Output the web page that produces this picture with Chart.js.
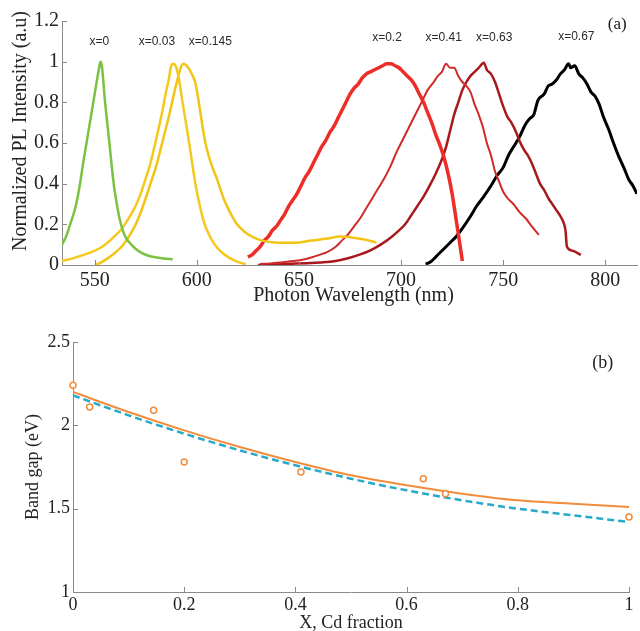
<!DOCTYPE html>
<html>
<head>
<meta charset="utf-8">
<script src="https://cdn.jsdelivr.net/npm/chart.js@4.4.1/dist/chart.umd.min.js"></script>
<style>
    body { margin: 0; background: #fff; }
    #wrap { position: relative; width: 640px; height: 631px; overflow: hidden; }
    #plChart { position: absolute; left: 0; top: 0; }
    #gapChart { position: absolute; left: 0; top: 310px; }
</style>
</head>
<body>
<div id="wrap">
    <canvas id="plChart" width="640" height="310"></canvas>
    <canvas id="gapChart" width="640" height="321"></canvas>
</div>
<script>
//---------------------------------------------------------------------------------------------//
//------------------------------------------- Data --------------------------------------------//
//---------------------------------------------------------------------------------------------//
// ----* (a) PL spectra : [wavelength nm, normalized intensity] *---- //
var spec_x0 = [[534, 0.10], [536, 0.14], [538, 0.20], [540.5, 0.28], [542.5, 0.38], [544.5, 0.51], [546.5, 0.63],
    [548, 0.72], [550.3, 0.86], [552, 0.96], [552.8, 1.0], [553.5, 0.98], [555, 0.81], [557, 0.62], [559.3, 0.40],
    [561, 0.29], [562.6, 0.21], [564.5, 0.15], [566.6, 0.115], [570, 0.08], [573.2, 0.058], [576, 0.047],
    [579.7, 0.038], [584, 0.032], [588.2, 0.028]];

var spec_x003 = [[534, 0.02], [540, 0.035], [547, 0.058], [552, 0.08], [555, 0.10], [559, 0.135], [563.4, 0.18],
    [567, 0.235], [570, 0.29], [572.5, 0.35], [574.8, 0.42], [577, 0.49], [579.7, 0.60], [581.5, 0.68], [583, 0.75],
    [584.5, 0.83], [586.2, 0.91], [587.5, 0.98], [588.5, 0.99], [590, 0.97], [591.5, 0.90], [593, 0.80], [595, 0.68],
    [597, 0.55], [599.3, 0.40], [601.5, 0.29], [603.5, 0.21], [605.5, 0.16], [607.5, 0.12], [610, 0.085],
    [613, 0.055], [616, 0.035], [620, 0.015], [624, 0.004]];

var spec_x0145 = [[550.3, 0.0], [553, 0.012], [556, 0.03], [560, 0.06], [564, 0.10], [568, 0.16], [571, 0.22],
    [574, 0.30], [577, 0.39], [580.5, 0.50], [582.5, 0.58], [584.7, 0.665], [587, 0.76], [589, 0.85], [591, 0.93],
    [592.5, 0.98], [593.6, 0.99], [595, 0.98], [596.5, 0.96], [598, 0.93], [599.3, 0.895], [601, 0.80],
    [602.5, 0.70], [604.2, 0.60], [606, 0.53], [607.5, 0.484], [610, 0.42], [613, 0.33], [615.7, 0.27],
    [619.7, 0.20], [623.8, 0.16], [628, 0.135], [632, 0.12], [640, 0.11], [648, 0.11], [656, 0.12], [664, 0.13],
    [670, 0.14], [676, 0.135], [682, 0.125], [688, 0.11]];

var spec_x02 = [[625, 0.04], [627, 0.05], [629, 0.07], [631, 0.09], [633, 0.12], [635, 0.14], [637, 0.17],
    [639, 0.19], [641, 0.22], [643, 0.25], [645, 0.29], [647, 0.32], [649, 0.35], [651, 0.39], [653, 0.43],
    [655, 0.46], [657, 0.50], [659, 0.54], [661, 0.58], [663, 0.61], [665, 0.65], [667, 0.68], [669, 0.72],
    [671, 0.76], [673, 0.80], [675, 0.84], [677, 0.87], [679, 0.89], [681, 0.92], [683, 0.94], [685, 0.95],
    [687, 0.96], [689, 0.97], [691, 0.98], [693, 0.99], [695, 0.99], [697, 0.98], [699, 0.97], [701, 0.95],
    [703, 0.93], [705, 0.91], [707, 0.88], [709, 0.84], [711, 0.80], [713, 0.75], [715, 0.70], [717, 0.64],
    [719, 0.59], [721, 0.53], [723, 0.45], [725, 0.35], [727, 0.22], [728.5, 0.12], [730, 0.02]];

var spec_x041 = [[631, 0.005], [636, 0.008], [641, 0.012], [646, 0.018], [651, 0.025], [656, 0.037], [660, 0.05],
    [664, 0.065], [668, 0.09], [671, 0.12], [674, 0.15], [677, 0.19], [680, 0.23], [683, 0.28], [686, 0.33],
    [689, 0.38], [692, 0.43], [695, 0.49], [698, 0.56], [701, 0.62], [704, 0.68], [707, 0.74], [710, 0.80],
    [713, 0.86], [716, 0.90], [718, 0.93], [720, 0.95], [722, 0.99], [724, 0.97], [726, 0.97], [728, 0.93],
    [730, 0.90], [732, 0.88], [734, 0.85], [736, 0.79], [738, 0.74], [740, 0.68], [742, 0.60], [744, 0.54],
    [746, 0.46], [748, 0.41], [750, 0.36], [752, 0.33], [755, 0.30], [758, 0.26], [761, 0.23], [764, 0.19],
    [767.5, 0.148]];

var spec_x063 = [[630, 0.0], [638, 0.003], [646, 0.006], [654, 0.009], [662, 0.013], [668, 0.02], [674, 0.033],
    [680, 0.052], [685, 0.072], [690, 0.10], [695, 0.135], [699, 0.17], [702, 0.20], [705, 0.245], [708, 0.29],
    [711, 0.336], [714, 0.39], [717, 0.45], [720, 0.52], [722, 0.58], [724, 0.66], [726, 0.74], [728, 0.80],
    [730, 0.86], [732, 0.90], [734, 0.93], [736, 0.95], [738, 0.97], [740.5, 0.995], [742, 0.96], [744, 0.94],
    [746, 0.90], [748, 0.84], [750, 0.78], [752, 0.73], [754, 0.70], [756, 0.66], [758, 0.61], [760, 0.57],
    [762, 0.54], [764, 0.50], [766, 0.45], [768, 0.40], [770, 0.37], [772, 0.33], [774, 0.30], [776, 0.27],
    [778, 0.24], [779.5, 0.21], [780.5, 0.17], [781.2, 0.09], [784, 0.07], [788, 0.05]];

var spec_x067 = [[712, 0.005], [714.5, 0.016], [717, 0.04], [720, 0.07], [722, 0.09], [724, 0.11], [727, 0.14],
    [730, 0.18], [734, 0.24], [737, 0.29], [740, 0.33], [744, 0.39], [747, 0.44], [750, 0.48], [752.6, 0.54],
    [755, 0.58], [758, 0.63], [760.8, 0.69], [763, 0.72], [765, 0.74], [767, 0.81], [770, 0.84], [772, 0.88],
    [774, 0.89], [776, 0.91], [778, 0.94], [780, 0.96], [782, 0.99], [783, 0.97], [785, 0.98], [787, 0.94],
    [789, 0.92], [791, 0.89], [793, 0.85], [795, 0.83], [797, 0.79], [799, 0.73], [801.7, 0.665], [804, 0.60],
    [806.6, 0.533], [809, 0.48], [811.5, 0.42], [813.5, 0.39], [815.5, 0.35]];

// curve labels and where they sit (wavelength, intensity)
var pl_labels = ['x=0', 'x=0.03', 'x=0.145', 'x=0.2', 'x=0.41', 'x=0.63', 'x=0.67'];
var pl_label_wl = [552.3, 580.5, 606.6, 693.1, 720.9, 745.6, 785.8];
var pl_label_y = [1.097, 1.097, 1.097, 1.117, 1.117, 1.117, 1.122];

var pl_x_ticks = [550, 600, 650, 700, 750, 800];
var pl_y_ticks = [0, 0.2, 0.4, 0.6, 0.8, 1, 1.2];

// ----* (b) Band gap vs Cd fraction *---- //
var gap_fit_x = [0, 0.1, 0.2, 0.3, 0.4, 0.5, 0.6, 0.7, 0.8, 0.9, 1];
var gap_fit_solid = [2.20, 2.08, 1.97, 1.87, 1.78, 1.70, 1.64, 1.59, 1.55, 1.53, 1.51];
var gap_fit_dash = [2.18, 2.06, 1.95, 1.85, 1.76, 1.68, 1.61, 1.55, 1.50, 1.46, 1.42];
var gap_meas_x = [0, 0.03, 0.145, 0.2, 0.41, 0.63, 0.67, 1];
var gap_meas_y = [2.24, 2.11, 2.09, 1.78, 1.72, 1.68, 1.59, 1.45];

var gap_x_ticks = [0, 0.2, 0.4, 0.6, 0.8, 1];
var gap_y_ticks = [1, 1.5, 2, 2.5];

//---------------------------------------------------------------------------------------------//
//-------------------------------------- Other function ---------------------------------------//
//---------------------------------------------------------------------------------------------//
function toXY(pairs) {
    return pairs.map(function (p) { return { x: p[0], y: p[1] }; });
}

function zipXY(xs, ys) {
    return xs.map(function (v, i) { return { x: v, y: ys[i] }; });
}

function specSet(pairs, color, width) {
    return {
        data: toXY(pairs),
        borderColor: color,
        borderWidth: width,
        pointRadius: 0,
        fill: false,
        cubicInterpolationMode: 'monotone'
    };
}

var AXIS_COLOR = '#8a8a8a';
var SERIF = '"Liberation Serif", "Times New Roman", serif';

function axisOpts(min, max, tickList, fontSize, pad, fitSize, isX) {
    return {
        type: 'linear',
        min: min,
        max: max,
        afterBuildTicks: function (s) {
            s.ticks = tickList.map(function (v) { return { value: v }; });
        },
        afterFit: function (s) {
            if (isX) { s.height = fitSize; } else { s.width = fitSize; }
        },
        grid: { drawOnChartArea: false, drawTicks: false, tickLength: 0 },
        border: { display: true, color: AXIS_COLOR, width: 1 },
        ticks: {
            font: { family: SERIF, size: fontSize },
            color: '#222',
            padding: pad,
            maxRotation: 0,
            autoSkip: false,
            callback: function (v) { return String(v); }
        }
    };
}

// small tick marks pointing into the plot, like the original
var innerTicks = {
    id: 'innerTicks',
    afterDraw: function (chart) {
        var ctx = chart.ctx, xs = chart.scales.x, ys = chart.scales.y, area = chart.chartArea;
        ctx.save();
        ctx.strokeStyle = AXIS_COLOR;
        ctx.lineWidth = 1;
        ctx.beginPath();
        xs.ticks.forEach(function (t) {
            var px = Math.round(xs.getPixelForValue(t.value)) + 0.5;
            ctx.moveTo(px, area.bottom);
            ctx.lineTo(px, area.bottom - 5);
        });
        ys.ticks.forEach(function (t) {
            var py = Math.round(ys.getPixelForValue(t.value)) + 0.5;
            ctx.moveTo(area.left, py);
            ctx.lineTo(area.left + 5, py);
        });
        ctx.stroke();
        ctx.restore();
    }
};

//--------------------------------------------------------------------------------------------//
//------------------------------------- (a) PL spectra ---------------------------------------//
//--------------------------------------------------------------------------------------------//
var plTextPlugin = {
    id: 'plText',
    afterDraw: function (chart) {
        var ctx = chart.ctx, xs = chart.scales.x, ys = chart.scales.y, area = chart.chartArea;
        ctx.save();
        ctx.fillStyle = '#2a2a2a';
        ctx.textAlign = 'center';
        ctx.textBaseline = 'middle';
        ctx.font = '12px "Liberation Sans", Arial, sans-serif';
        for (var i = 0; i < pl_labels.length; i++) {
            ctx.fillText(pl_labels[i], xs.getPixelForValue(pl_label_wl[i]), ys.getPixelForValue(pl_label_y[i]));
        }
        ctx.fillStyle = '#222';
        ctx.font = '17px ' + SERIF;
        ctx.fillText('(a)', xs.getPixelForValue(805.8), ys.getPixelForValue(1.182));
        ctx.font = '20px ' + SERIF;
        ctx.fillText('Photon Wavelength (nm)', (area.left + area.right) / 2 + 4, 296);
        ctx.translate(21, 131);
        ctx.rotate(-Math.PI / 2);
        ctx.fillText('Normalized PL Intensity (a.u)', 0, 0);
        ctx.restore();
    }
};

var plChart = new Chart(document.getElementById('plChart'), {
    type: 'line',
    data: {
        datasets: [
            specSet(spec_x0, '#7cc242', 2.5),
            specSet(spec_x003, '#f5c81e', 2.5),
            specSet(spec_x0145, '#f2c416', 2.5),
            specSet(spec_x02, '#ee2d28', 3.5),
            specSet(spec_x041, '#d02a2a', 2),
            specSet(spec_x063, '#a8191d', 2.5),
            specSet(spec_x067, '#000000', 3)
        ]
    },
    options: {
        responsive: false,
        devicePixelRatio: 1,
        animation: false,
        layout: { padding: { left: 0, right: 3, top: 21, bottom: 0 } },
        plugins: { legend: { display: false }, tooltip: { enabled: false } },
        scales: {
            x: axisOpts(534, 815.5, pl_x_ticks, 20, 4, 45, true),
            y: axisOpts(0, 1.2, pl_y_ticks, 20, 3, 62, false)
        }
    },
    plugins: [innerTicks, plTextPlugin]
});

//--------------------------------------------------------------------------------------------//
//------------------------------------- (b) Band gap -----------------------------------------//
//--------------------------------------------------------------------------------------------//
var gapTextPlugin = {
    id: 'gapText',
    afterDraw: function (chart) {
        var ctx = chart.ctx, xs = chart.scales.x, ys = chart.scales.y, area = chart.chartArea;
        ctx.save();
        ctx.fillStyle = '#222';
        ctx.textAlign = 'center';
        ctx.textBaseline = 'middle';
        ctx.font = '18px ' + SERIF;
        ctx.fillText('(b)', xs.getPixelForValue(0.953), ys.getPixelForValue(2.372));
        ctx.fillText('X, Cd fraction', (area.left + area.right) / 2, 313);
        ctx.translate(33, 157);
        ctx.rotate(-Math.PI / 2);
        ctx.fillText('Band gap (eV)', 0, 0);
        ctx.restore();
    }
};

var gapChart = new Chart(document.getElementById('gapChart'), {
    type: 'line',
    data: {
        datasets: [{
            data: zipXY(gap_meas_x, gap_meas_y),
            showLine: false,
            clip: false,
            pointRadius: 3,
            pointBorderWidth: 1.5,
            pointBorderColor: '#f08c3c',
            pointBackgroundColor: '#ffffff'
        }, {
            data: zipXY(gap_fit_x, gap_fit_solid),
            borderColor: '#f08c3c',
            borderWidth: 2,
            pointRadius: 0,
            cubicInterpolationMode: 'monotone'
        }, {
            data: zipXY(gap_fit_x, gap_fit_dash),
            borderColor: '#27a9c9',
            borderWidth: 2.5,
            borderDash: [7, 4],
            pointRadius: 0,
            cubicInterpolationMode: 'monotone'
        }]
    },
    options: {
        responsive: false,
        devicePixelRatio: 1,
        animation: false,
        layout: { padding: { left: 0, right: 11, top: 32, bottom: 0 } },
        plugins: { legend: { display: false }, tooltip: { enabled: false } },
        scales: {
            x: axisOpts(0, 1, gap_x_ticks, 18, 2, 39, true),
            y: axisOpts(1, 2.5, gap_y_ticks, 18, 3, 73, false)
        }
    },
    plugins: [innerTicks, gapTextPlugin]
});
</script>
</body>
</html>
